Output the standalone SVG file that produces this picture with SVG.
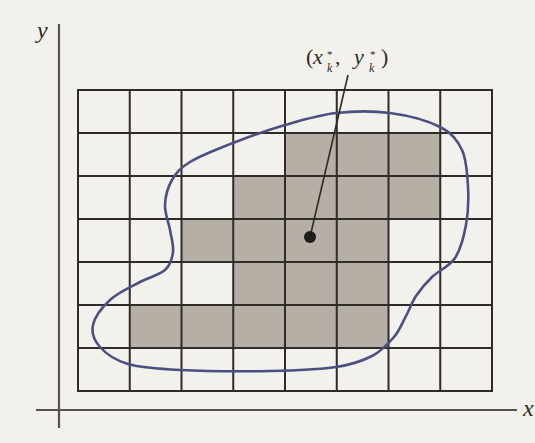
<svg xmlns="http://www.w3.org/2000/svg" width="535" height="443" viewBox="0 0 535 443">
  <style>
    .grid { stroke: #2e2b28; stroke-width: 2; fill: none; }
    .axis { stroke: #55514d; stroke-width: 2.2; fill: none; }
    .shade { fill: #b7afa5; stroke: none; }
    .region { stroke: #4a5080; stroke-width: 2.6; fill: none; }
    .lbl { font-family: "Liberation Serif", "DejaVu Serif", serif; fill: #2e2b28; }
    .it { font-style: italic; }
  </style>
  <rect x="0" y="0" width="535" height="443" fill="#f3f1ec"/>

  <g id="axes">
    <line class="axis" x1="59" y1="24" x2="59" y2="428"/>
    <line class="axis" x1="36" y1="410" x2="517" y2="410"/>
    <text class="lbl it" x="37" y="38" font-size="24">y</text>
    <text class="lbl it" x="523" y="416" font-size="24">x</text>
  </g>

  <g id="shaded-cells">
    <rect class="shade" x="285" y="133" width="155.25" height="43"/>
    <rect class="shade" x="233.25" y="176" width="207" height="43"/>
    <rect class="shade" x="181.5" y="219" width="207" height="43"/>
    <rect class="shade" x="233.25" y="262" width="155.25" height="43"/>
    <rect class="shade" x="129.75" y="305" width="258.75" height="43"/>
  </g>

  <g id="grid">
    <rect class="grid" x="78" y="90" width="414" height="301"/>
    <path class="grid" d="M129.75 90V391M181.5 90V391M233.25 90V391M285 90V391M336.75 90V391M388.5 90V391M440.25 90V391
      M78 133H492M78 176H492M78 219H492M78 262H492M78 305H492M78 348H492"/>
  </g>

  <g id="region">
    <path class="region" d="M336 113 C353.5 111 372.7 110.7 390 113 C407.3 115.3 428 120.8 440 127 C452 133.2 457.3 140 462 150 C466.7 160 467.3 174.5 468 187 C468.7 199.5 468.2 213.2 466 225 C463.8 236.8 460.7 249.3 455 258 C449.3 266.7 438.5 270.7 432 277 C425.5 283.3 420.3 289.5 416 296 C411.7 302.5 409.7 309.2 406 316 C402.3 322.8 399.7 330.3 394 337 C388.3 343.7 381.7 351 372 356 C362.3 361 353 364.5 336 367 C319 369.5 296 370.5 270 371 C244 371.5 203.7 371.2 180 370 C156.3 368.8 141.3 367.8 128 364 C114.7 360.2 105.8 353.5 100 347 C94.2 340.5 91.3 332.8 93 325 C94.7 317.2 102.2 307.2 110 300 C117.8 292.8 130.8 287 140 282 C149.2 277 159.5 275 165 270 C170.5 265 172.2 258.7 173 252 C173.8 245.3 171.3 237.8 170 230 C168.7 222.2 164.7 213.3 165 205 C165.3 196.7 167.8 187.2 172 180 C176.2 172.8 179.8 168.2 190 162 C200.2 155.8 217.2 149.2 233 143 C248.8 136.8 267.8 130 285 125 C302.2 120 318.5 115 336 113 Z"/>
  </g>

  <g id="connectors">
    <line x1="348" y1="75" x2="310" y2="237" stroke="#2e2b28" stroke-width="1.6"/>
  </g>

  <g id="point">
    <circle cx="310" cy="237" r="6" fill="#1f1c1a"/>
  </g>

  <g id="point-label">
    <text class="lbl" font-size="22"><tspan x="306" y="64">(</tspan><tspan class="it" x="313" y="64">x</tspan><tspan x="327" y="58" font-size="11">*</tspan><tspan class="it" x="327" y="72" font-size="12">k</tspan><tspan x="335" y="64">,</tspan><tspan class="it" x="354" y="64">y</tspan><tspan x="370" y="58" font-size="11">*</tspan><tspan class="it" x="369" y="72" font-size="12">k</tspan><tspan x="381" y="64">)</tspan></text>
  </g>
</svg>
